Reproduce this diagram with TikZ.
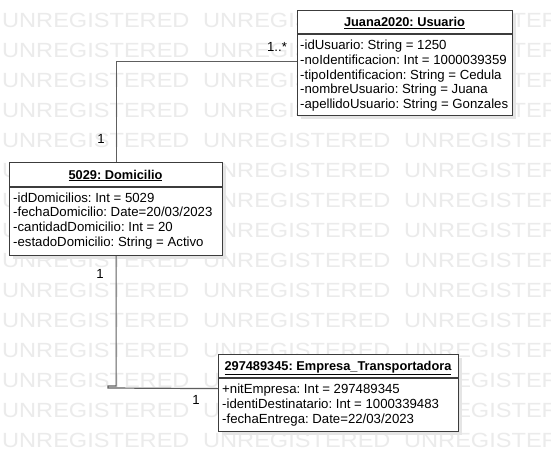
\documentclass[tikz,border=0pt]{standalone}
\usepackage{graphicx}
\usepackage{fontspec}
\setmainfont{Liberation Sans}
\usetikzlibrary{shadows}

\definecolor{boxline}{HTML}{3C3C3C}
\definecolor{wire}{HTML}{5E5E5E}
\definecolor{wmgray}{HTML}{EBEBEB}

\begin{document}
\frenchspacing
\begin{tikzpicture}[
		x=1pt, y=-1pt,
		every node/.style={inner sep=0pt, font=\fontsize{13.2}{14}\selectfont},
		objbox/.style={draw=boxline, line width=1.2pt, fill=white, anchor=north west,
			drop shadow={shadow xshift=3pt, shadow yshift=-3pt, fill=black!10, opacity=1}},
		objsep/.style={draw=boxline, line width=1.2pt},
		objtitle/.style={anchor=base, font=\bfseries\fontsize{12.8}{14}\selectfont},
		attr/.style={anchor=base west},
		mult/.style={anchor=center},
		wire/.style={draw=wire, line width=1.2pt},
		wmark/.style={anchor=west, text=wmgray, font=\fontsize{20.5}{22}\selectfont}
	]
  \useasboundingbox (0,0) rectangle (551,471);
  \clip (0,0) rectangle (551,471);
  \fill[white] (0,0) rectangle (551,471);
  \foreach \r in {0,...,14}
    \foreach \c in {0,1,2}
      \node (wm-\r-\c) [wmark] at (2+201*\c, 20+30*\r) {\scalebox{1.15}[1]{UNREGISTERED}};

  \node (usuario) [objbox, minimum width=215pt, minimum height=105pt] at (297,10) {};
  \draw[objsep] (usuario.west |- 0,34) -- (usuario.east |- 0,34);
  \node (usuario-title) [objtitle] at (404.5,26.5) {\underline{Juana2020: Usuario}};
  \foreach \t [count=\i from 0] in {{-idUsuario: String = 1250}, {-noIdentificacion: Int = 1000039359},
      {-tipoIdentificacion: String = Cedula}, {-nombreUsuario: String = Juana},
      {-apellidoUsuario: String = Gonzales}}
    \node (usuario-a\i) [attr] at (300, 49.5+14.8*\i) {\t};

  \node (domicilio) [objbox, minimum width=213pt, minimum height=93pt] at (9,162) {};
  \draw[objsep] (domicilio.west |- 0,187) -- (domicilio.east |- 0,187);
  \node (domicilio-title) [objtitle] at (115.5,179) {\underline{5029: Domicilio}};
  \foreach \t [count=\i from 0] in {{-idDomicilios: Int = 5029}, {-fechaDomicilio: Date=20/03/2023},
      {-cantidadDomicilio: Int = 20}, {-estadoDomicilio: String = Activo}}
    \node (domicilio-a\i) [attr] at (13, 202+14.8*\i) {\t};

  \node (empresa) [objbox, minimum width=240pt, minimum height=77pt] at (218,354) {};
  \draw[objsep] (empresa.west |- 0,378) -- (empresa.east |- 0,378);
  \node (empresa-title) [objtitle] at (338,370.5) {\underline{297489345: Empresa\_Transportadora}};
  \foreach \t [count=\i from 0] in {{+nitEmpresa: Int = 297489345}, {-identiDestinatario: Int = 1000339483},
      {-fechaEntrega: Date=22/03/2023}}
    \node (empresa-a\i) [attr] at (222, 393.5+14.8*\i) {\t};

  \coordinate (hook) at (108,388);
  \draw[wire] ([yshift=1.5pt]usuario.west) -| (domicilio.north);
  \draw[wire] (domicilio.south) |- ([yshift=2pt]hook) -- (hook) -- ([yshift=4.5pt]empresa.west);

  \node (m-usuario) [mult] at (277,47) {1..*};
  \node (m-domicilio-up) [mult] at (101,139) {1};
  \node (m-domicilio-down) [mult] at (100,274) {1};
  \node (m-empresa) [mult] at (196,400) {1};
\end{tikzpicture}
\end{document}
